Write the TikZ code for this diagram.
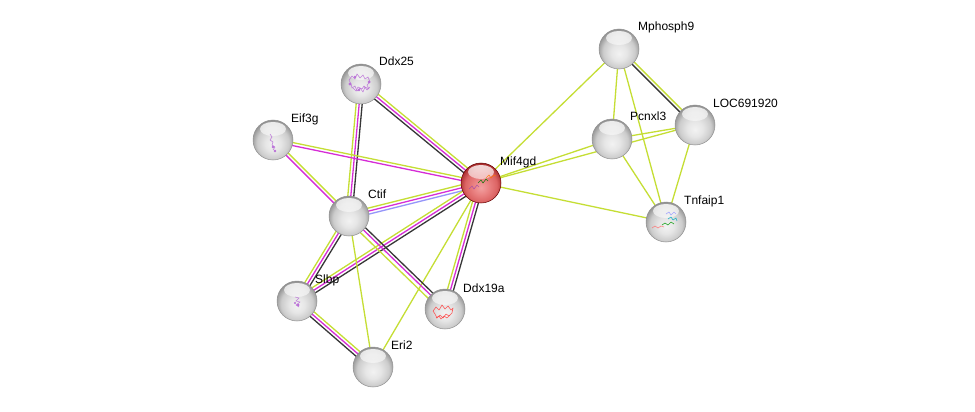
\documentclass[tikz,border=0pt]{standalone}
\usepackage{fontspec}
\setmainfont{Liberation Sans}
\usetikzlibrary{calc,fadings}
\pgfdeclarelayer{back}
\pgfdeclarelayer{bg}
\pgfsetlayers{back,bg,main}
\definecolor{yg}{RGB}{197,222,52}
\definecolor{mag}{RGB}{214,44,214}
\definecolor{drk}{RGB}{55,55,55}
\definecolor{blu}{RGB}{150,150,250}
\definecolor{pur}{RGB}{185,110,215}
\pgfdeclareradialshading{sphgray}{\pgfpoint{0bp}{-6bp}}{%
  color(0bp)=(white!95!black); color(10bp)=(white!90!black); color(20bp)=(white!80!black);
  color(27bp)=(white!58!black); color(31bp)=(white!48!black); color(50bp)=(white!48!black)}
\pgfdeclareradialshading{sphred}{\pgfpoint{0bp}{-6bp}}{%
  color(0bp)=(rgb,255:red,242;green,160;blue,160); color(10bp)=(rgb,255:red,234;green,130;blue,130);
  color(20bp)=(rgb,255:red,220;green,100;blue,100);
  color(27bp)=(rgb,255:red,170;green,45;blue,45); color(31bp)=(rgb,255:red,130;green,25;blue,25);
  color(50bp)=(rgb,255:red,130;green,25;blue,25)}
\tikzset{
  prot/.style={circle,minimum size=40pt,inner sep=0pt,shading=sphgray,draw=gray!85,line width=0.5pt,
    path picture={\fill[white,path fading=south,fill opacity=0.85] ([yshift=-9pt]path picture bounding box.north) ellipse [x radius=13pt,y radius=7pt];}},
  protred/.style={prot,shading=sphred,draw=red!40!black},
  lab/.style={anchor=base west,inner sep=0pt,font=\fontsize{12}{14}\selectfont},
  ln/.style={line width=1.3pt},
  strc/.style={line width=0.6pt,line join=round,opacity=0.85}
}
\newcommand\plink[4]{%
  \draw[ln,#1] ($(#3.center)!#2!90:(#4.center)$) -- ($(#4.center)!#2!-90:(#3.center)$);}
\begin{document}
\begin{tikzpicture}[x=1pt,y=-1pt]
\begin{pgfonlayer}{back}
\useasboundingbox[fill=white] (0,0) rectangle (975,412);
\end{pgfonlayer}
% proteins
\node[prot] (mph) at (619,49) {};
\node[prot] (loc) at (695,125) {};
\node[prot] (pcn) at (612,139) {};
\node[prot] (tnf) at (666,222) {};
\node[protred] (mif) at (481,183) {};
\node[prot] (ddx25) at (361,84) {};
\node[prot] (eif) at (273,140) {};
\node[prot] (ctif) at (349,216) {};
\node[prot] (slbp) at (297,301) {};
\node[prot] (ddx19) at (445,309) {};
\node[prot] (eri) at (373,367) {};
% structure sketches inside the spheres
\draw[strc,pur] ([shift={(-12,-4)}]ddx25.center) -- ++(3,-4) -- ++(3,3) -- ++(2,-5) -- ++(3,4) -- ++(3,-3) -- ++(2,4) -- ++(3,-2) -- ++(2,5) -- ++(-3,3) -- ++(2,4) -- ++(-4,-2) -- ++(-2,5) -- ++(-3,-4) -- ++(-3,3) -- ++(-2,-5) -- ++(-3,2) -- ++(-1,-4) -- cycle;
\draw[strc,pur] ([shift={(-8,4)}]ddx25.center) -- ++(3,3) -- ++(2,-4) -- ++(4,2) -- ++(2,-3) -- ++(3,4) -- ++(3,-3);
\fill[pur] ([shift={(-11,0)}]ddx25.center) circle (1.6pt) ([shift={(-6,-7)}]ddx25.center) circle (1.4pt) ([shift={(8,-2)}]ddx25.center) circle (1.5pt) ([shift={(-2,6)}]ddx25.center) circle (1.3pt);
\draw[strc,pur] ([shift={(-3,-6)}]eif.center) -- ++(2,3) -- ++(-2,3) -- ++(3,2) -- ++(-1,3) -- ++(3,2) -- ++(-2,3);
\fill[pur] ([shift={(0,7)}]eif.center) circle (1.4pt) ([shift={(2,11)}]eif.center) circle (1.4pt);
\draw[strc,pur] ([shift={(-2,-4)}]slbp.center) -- ++(4,1) -- ++(-3,3) -- ++(4,1) -- ++(-4,3) -- ++(3,2);
\fill[pur] ([shift={(1,4)}]slbp.center) circle (1.5pt) ([shift={(-2,2)}]slbp.center) circle (1.2pt);
\draw[strc,red!75] ([shift={(-12,2)}]ddx19.center) -- ++(3,-4) -- ++(3,3) -- ++(3,-5) -- ++(3,4) -- ++(3,-3) -- ++(3,4) -- ++(2,-2) -- ++(-1,5) -- ++(-3,3) -- ++(-3,-2) -- ++(-3,4) -- ++(-3,-3) -- ++(-3,3) -- ++(-2,-4) -- cycle;
\draw[strc,red!75] ([shift={(-9,9)}]ddx19.center) -- ++(3,-2) -- ++(2,3) -- ++(3,-3) -- ++(3,2) -- ++(3,-3);
\draw[strc,blue!40] ([shift={(0,-8)}]tnf.center) -- ++(3,-2) -- ++(2,3) -- ++(3,-3) -- ++(2,2);
\draw[strc,cyan!70!green] ([shift={(2,-3)}]tnf.center) -- ++(3,-2) -- ++(2,3) -- ++(3,-2) -- ++(1,3);
\draw[strc,green!60!black] ([shift={(-4,3)}]tnf.center) -- ++(3,-2) -- ++(3,2) -- ++(3,-3) -- ++(3,2);
\draw[strc,red!55] ([shift={(-14,6)}]tnf.center) -- ++(3,-2) -- ++(3,2) -- ++(3,-2) -- ++(3,1);
\draw[strc,violet!70] ([shift={(-12,6)}]mif.center) -- ++(3,-3) -- ++(2,3) -- ++(3,-4) -- ++(2,2);
\draw[strc,green!45!black] ([shift={(-3,0)}]mif.center) -- ++(3,-3) -- ++(2,3) -- ++(3,-4) -- ++(2,2);
\draw[strc,orange!90!red] ([shift={(5,-5)}]mif.center) -- ++(3,-3) -- ++(2,3) -- ++(3,-3) -- ++(2,1);
% labels
\node[lab] (lmph) at (638,31) {Mphosph9};
\node[lab] (lloc) at (713,107) {LOC691920};
\node[lab] (lpcn) at (630,121) {Pcnxl3};
\node[lab] (ltnf) at (684,204) {Tnfaip1};
\node[lab] (lmif) at (500,165) {Mif4gd};
\node[lab] (lddx25) at (379,66) {Ddx25};
\node[lab] (leif) at (291,122) {Eif3g};
\node[lab] (lctif) at (368,198) {Ctif};
\node[lab] (lslbp) at (315,283) {Slbp};
\node[lab] (lddx19) at (463,292) {Ddx19a};
\node[lab] (leri) at (391,349) {Eri2};
\begin{pgfonlayer}{bg}
% right cluster
\plink{yg}{0pt}{mph}{mif}
\plink{yg}{0pt}{mph}{pcn}
\plink{yg}{0pt}{mph}{tnf}
\plink{yg}{1.5pt}{mph}{loc}
\plink{drk}{-1.5pt}{mph}{loc}
\plink{yg}{0pt}{mif}{pcn}
\plink{yg}{0pt}{mif}{loc}
\plink{yg}{0pt}{pcn}{loc}
\plink{yg}{0pt}{pcn}{tnf}
\plink{yg}{0pt}{loc}{tnf}
\plink{yg}{0pt}{mif}{tnf}
% Ddx25-Mif4gd
\plink{yg}{3pt}{ddx25}{mif}
\plink{mag}{0pt}{ddx25}{mif}
\plink{drk}{-3pt}{ddx25}{mif}
% Ddx25-Ctif
\plink{yg}{-3pt}{ddx25}{ctif}
\plink{mag}{0pt}{ddx25}{ctif}
\plink{drk}{3pt}{ddx25}{ctif}
% Eif3g-Mif4gd
\plink{yg}{1.5pt}{eif}{mif}
\plink{mag}{-1.5pt}{eif}{mif}
% Eif3g-Ctif
\plink{yg}{1.5pt}{eif}{ctif}
\plink{mag}{-1.5pt}{eif}{ctif}
% Ctif-Mif4gd
\plink{yg}{3pt}{ctif}{mif}
\plink{mag}{0pt}{ctif}{mif}
\plink{blu}{-3pt}{ctif}{mif}
% Slbp-Mif4gd
\plink{yg}{3pt}{slbp}{mif}
\plink{mag}{0pt}{slbp}{mif}
\plink{drk}{-3pt}{slbp}{mif}
% Ddx19a-Mif4gd
\plink{yg}{3pt}{ddx19}{mif}
\plink{mag}{0pt}{ddx19}{mif}
\plink{drk}{-3pt}{ddx19}{mif}
% Eri2-Mif4gd
\plink{yg}{0pt}{eri}{mif}
% Ctif-Slbp
\plink{yg}{-3pt}{ctif}{slbp}
\plink{mag}{0pt}{ctif}{slbp}
\plink{drk}{3pt}{ctif}{slbp}
% Ctif-Ddx19a
\plink{yg}{-4pt}{ctif}{ddx19}
\plink{mag}{0pt}{ctif}{ddx19}
\plink{drk}{3pt}{ctif}{ddx19}
% Ctif-Eri2
\plink{yg}{0pt}{ctif}{eri}
% Slbp-Eri2
\plink{yg}{3pt}{slbp}{eri}
\plink{mag}{0pt}{slbp}{eri}
\plink{drk}{-3pt}{slbp}{eri}
\end{pgfonlayer}
\end{tikzpicture}
\end{document}
